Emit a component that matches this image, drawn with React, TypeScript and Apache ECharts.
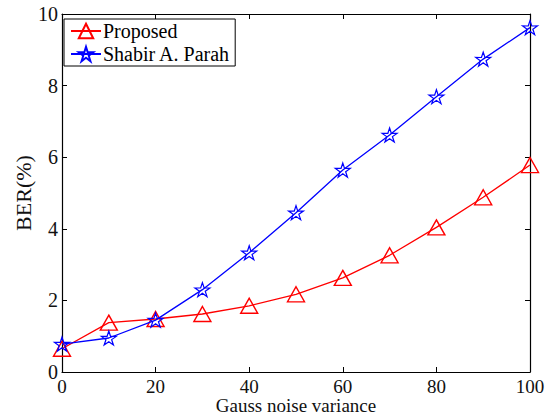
import React, { useEffect, useRef } from "react";
import * as echarts from "echarts";

const xValues = [0, 10, 20, 30, 40, 50, 60, 70, 80, 90, 100];
const proposed = [0.65, 1.38, 1.48, 1.62, 1.85, 2.17, 2.63, 3.26, 4.04, 4.88, 5.78];
const parah = [0.78, 0.95, 1.45, 2.3, 3.33, 4.45, 5.64, 6.62, 7.69, 8.74, 9.62];
const seriesNames = ["Proposed", "Shabir A. Parah"];

const STAR =
  "path://M50 0 L61.17 34.63 L97.55 34.55 L68.07 55.87 L79.39 90.45 L50 69 L20.61 90.45 L31.93 55.87 L2.45 34.55 L38.83 34.63 Z";

const FONT = "'Liberation Serif', 'Times New Roman', serif";

export default function App() {
  const ref = useRef<HTMLDivElement>(null);
  useEffect(() => {
    if (!ref.current) return;
    const chart = echarts.init(ref.current, undefined, { renderer: "svg" });
    const tickStyle = { show: true, inside: true, length: 5, lineStyle: { color: "#000", width: 1 } };
    const lineAx = { show: true, onZero: false, lineStyle: { color: "#000", width: 1.2 } };
    chart.setOption({
      animation: false,
      backgroundColor: "#fff",
      textStyle: { fontFamily: FONT },
      grid: { left: 62, right: 23, top: 14, bottom: 45, containLabel: false, outerBoundsMode: "none" },
      legend: {
        orient: "vertical",
        left: 64,
        top: 19,
        backgroundColor: "#fff",
        borderColor: "#000",
        borderWidth: 1,
        borderRadius: 0,
        padding: [2, 5, 2, 6],
        itemGap: 3,
        itemWidth: 30,
        itemHeight: 18,
        textStyle: { fontFamily: FONT, fontSize: 20, color: "#000", padding: [0, 0, 0, -3] },
        data: seriesNames,
      },
      xAxis: [
        {
          type: "value",
          min: 0,
          max: 100,
          interval: 20,
          position: "bottom",
          axisLine: lineAx,
          axisTick: tickStyle,
          splitLine: { show: false },
          axisLabel: { fontFamily: FONT, fontSize: 19, lineHeight: 18, color: "#111", margin: 5 },
          name: "Gauss noise variance",
          nameLocation: "middle",
          nameGap: 24,
          nameMoveOverlap: false,
          nameTextStyle: { fontFamily: FONT, fontSize: 19, lineHeight: 18, color: "#111" },
        },
        {
          type: "value",
          min: 0,
          max: 100,
          interval: 20,
          position: "top",
          axisLine: lineAx,
          axisTick: tickStyle,
          splitLine: { show: false },
          axisLabel: { show: false },
        },
      ],
      yAxis: [
        {
          type: "value",
          min: 0,
          max: 10,
          interval: 2,
          position: "left",
          axisLine: lineAx,
          axisTick: tickStyle,
          splitLine: { show: false },
          axisLabel: { fontFamily: FONT, fontSize: 20, color: "#111", margin: 4 },
          name: "BER(%)",
          nameLocation: "middle",
          nameGap: 28,
          nameMoveOverlap: false,
          nameTextStyle: { fontFamily: FONT, fontSize: 22, color: "#111" },
        },
        {
          type: "value",
          min: 0,
          max: 10,
          interval: 2,
          position: "right",
          axisLine: lineAx,
          axisTick: tickStyle,
          splitLine: { show: false },
          axisLabel: { show: false },
        },
      ],
      series: [
        {
          name: seriesNames[0],
          type: "line",
          data: xValues.map((x, i) => [x, proposed[i]]),
          symbol: "triangle",
          symbolSize: [17, 15],
          showAllSymbol: true,
          lineStyle: { color: "#ff0000", width: 1.3 },
          itemStyle: { color: "rgba(255,255,255,0)", borderColor: "#ff0000", borderWidth: 1.4 },
          color: "#ff0000",
          z: 3,
        },
        {
          name: seriesNames[1],
          type: "line",
          data: xValues.map((x, i) => [x, parah[i]]),
          symbol: STAR,
          symbolSize: [15, 14],
          showAllSymbol: true,
          lineStyle: { color: "#0000ff", width: 1.3 },
          itemStyle: { color: "rgba(255,255,255,0)", borderColor: "#0000ff", borderWidth: 1.2 },
          color: "#0000ff",
          z: 4,
        },
      ],
    });
    return () => chart.dispose();
  }, []);
  return <div ref={ref} style={{ width: 553, height: 417, position: "absolute", left: 0, top: 0 }} />;
}
